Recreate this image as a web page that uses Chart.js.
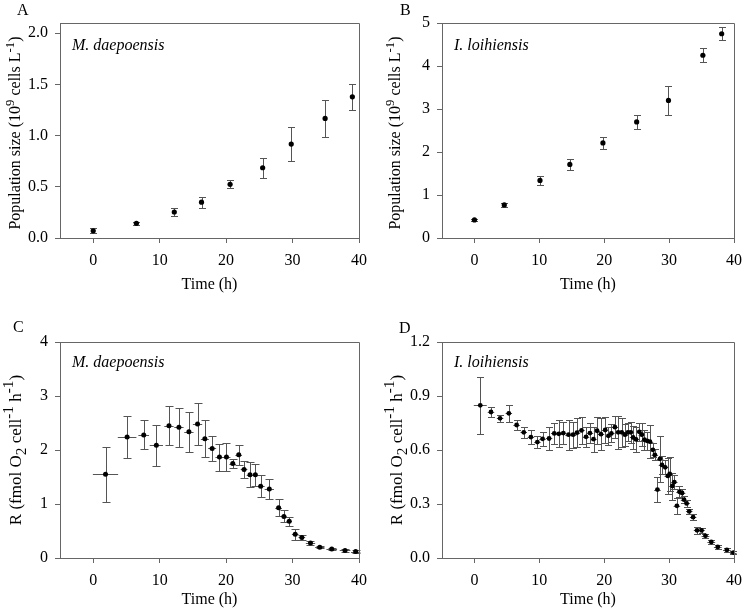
<!DOCTYPE html>
<html><head><meta charset="utf-8">
<script src="https://cdn.jsdelivr.net/npm/chart.js@4/dist/chart.umd.min.js"></script>
<style>
body{margin:0;background:#fff;width:750px;height:613px;position:relative;overflow:hidden;font-family:"Liberation Serif","Times New Roman",serif;color:#000;}
canvas{position:absolute;}
.lbl{position:absolute;font-size:16px;line-height:1;white-space:nowrap;}
.ytitle{position:absolute;font-size:16px;line-height:1;white-space:nowrap;transform:translate(-50%,-50%) rotate(-90deg);}
.ytitle.r{font-size:17px;}
sup,sub{font-size:80%;line-height:0;position:relative;vertical-align:baseline;}
.ytitle.r sup,.ytitle.r sub{font-size:90%;}
sup{top:-0.5em;} sub{bottom:-0.3em;}
</style></head>
<body>
<canvas id="cA" width="375" height="300" style="left:0;top:0"></canvas>
<canvas id="cB" width="375" height="300" style="left:375px;top:0"></canvas>
<canvas id="cC" width="375" height="313" style="left:0;top:300px"></canvas>
<canvas id="cD" width="375" height="313" style="left:375px;top:300px"></canvas>

<div class="lbl" style="left:17px;top:2px">A</div>
<div class="lbl" style="left:400px;top:2px">B</div>
<div class="lbl" style="left:13px;top:319px">C</div>
<div class="lbl" style="left:399px;top:320px">D</div>

<div class="ytitle" style="left:15px;top:133px">Population size (10<sup>9</sup> cells L<sup>-1</sup>)</div>
<div class="ytitle" style="left:395px;top:133px">Population size (10<sup>9</sup> cells L<sup>-1</sup>)</div>
<div class="ytitle r" style="left:15px;top:450px">R (fmol O<sub>2</sub> cell<sup>-1</sup> h<sup>-1</sup>)</div>
<div class="ytitle r" style="left:396px;top:450px">R (fmol O<sub>2</sub> cell<sup>-1</sup> h<sup>-1</sup>)</div>

<script>
// ---- data ----
const xTicks = [0, 10, 20, 30, 40];

const aTime = [0, 6.5, 12.2, 16.3, 20.6, 25.5, 29.8, 34.9, 39.0];
const aPop  = [0.07, 0.143, 0.254, 0.35, 0.524, 0.686, 0.917, 1.168, 1.379];
const aErr  = [0.025, 0.012, 0.037, 0.055, 0.04, 0.1, 0.163, 0.18, 0.127];
const aYTicks = [0, 0.5, 1.0, 1.5, 2.0];

const bTime = [0, 4.6, 10.1, 14.7, 19.8, 25.0, 29.9, 35.2, 38.1];
const bPop  = [0.42, 0.77, 1.34, 1.71, 2.21, 2.70, 3.20, 4.25, 4.75];
const bErr  = [0.02, 0.047, 0.1, 0.13, 0.14, 0.155, 0.33, 0.167, 0.155];
const bYTicks = [0, 1, 2, 3, 4, 5];

const cTime = [1.85, 5.1, 7.6, 9.5, 11.4, 12.9, 14.4, 15.7, 16.8, 17.9, 19.0, 20.05, 21.0, 21.9, 22.7, 23.6, 24.4, 25.2, 26.5, 27.9, 28.7, 29.5, 30.4, 31.4, 32.7, 34.1, 35.9, 37.9, 39.5];
const cRate = [1.55, 2.24, 2.28, 2.09, 2.45, 2.42, 2.34, 2.48, 2.21, 2.03, 1.87, 1.87, 1.75, 1.91, 1.64, 1.54, 1.54, 1.33, 1.28, 0.93, 0.77, 0.68, 0.44, 0.38, 0.28, 0.20, 0.165, 0.14, 0.12];
const cErr  = [0.51, 0.39, 0.27, 0.38, 0.36, 0.36, 0.37, 0.39, 0.34, 0.23, 0.25, 0.26, 0.09, 0.19, 0.15, 0.23, 0.21, 0.2, 0.19, 0.16, 0.11, 0.08, 0.1, 0.04, 0.03, 0.02, 0.02, 0.02, 0.02];
const cTimeErr = [1.9, 1.4, 0.8, 1.0, 0.7, 0.7, 0.7, 0.7, 0.6, 0.6, 0.6, 0.6, 0.5, 0.5, 0.5, 0.5, 0.5, 0.6, 0.7, 0.5, 0.4, 0.4, 0.5, 0.5, 0.7, 0.7, 0.8, 0.8, 0.7];
const cYTicks = [0, 1, 2, 3, 4];

const dTime = [0.9, 2.55, 3.95, 5.3, 6.5, 7.6, 8.7, 9.7, 10.5, 11.5, 12.3, 13.0, 13.7, 14.5, 15.2, 15.8, 16.5, 17.2, 17.8, 18.35, 18.9, 19.5, 20.15, 20.65, 21.1, 21.65, 22.15, 22.7, 23.2, 23.65, 24.1, 24.45, 24.9, 25.4, 25.8, 26.2, 26.6, 27.05, 27.5, 27.8, 28.2, 28.6, 28.9, 29.4, 29.8, 30.1, 30.5, 30.8, 31.2, 31.6, 32.0, 32.3, 32.7, 33.1, 33.7, 34.3, 35.0, 35.6, 36.5, 37.5, 38.9, 39.9];
const dRate = [0.848, 0.811, 0.776, 0.804, 0.739, 0.698, 0.672, 0.644, 0.662, 0.664, 0.692, 0.690, 0.694, 0.685, 0.685, 0.696, 0.709, 0.673, 0.694, 0.660, 0.707, 0.688, 0.711, 0.679, 0.692, 0.727, 0.698, 0.698, 0.685, 0.698, 0.698, 0.670, 0.659, 0.701, 0.685, 0.657, 0.651, 0.646, 0.601, 0.573, 0.38, 0.551, 0.517, 0.504, 0.456, 0.467, 0.40, 0.422, 0.29, 0.368, 0.361, 0.324, 0.303, 0.259, 0.227, 0.154, 0.153, 0.123, 0.089, 0.061, 0.045, 0.030];
const dErr  = [0.157, 0.03, 0.02, 0.047, 0.03, 0.03, 0.037, 0.035, 0.04, 0.063, 0.06, 0.076, 0.06, 0.084, 0.073, 0.08, 0.075, 0.054, 0.056, 0.07, 0.074, 0.09, 0.072, 0.05, 0.05, 0.06, 0.09, 0.08, 0.06, 0.05, 0.06, 0.065, 0.07, 0.05, 0.065, 0.055, 0.05, 0.093, 0.04, 0.03, 0.07, 0.127, 0.05, 0.04, 0.1, 0.093, 0.075, 0.04, 0.045, 0.03, 0.025, 0.02, 0.02, 0.015, 0.015, 0.02, 0.015, 0.012, 0.01, 0.01, 0.01, 0.01];
const dTimeErr = [1.0, 0.5, 0.5, 0.5, 0.5, 0.5, 0.5, 0.5, 0.5, 0.5, 0.5, 0.5, 0.5, 0.5, 0.5, 0.5, 0.5, 0.5, 0.5, 0.5, 0.5, 0.5, 0.5, 0.5, 0.5, 0.5, 0.5, 0.5, 0.5, 0.5, 0.5, 0.5, 0.5, 0.5, 0.5, 0.5, 0.5, 0.5, 0.5, 0.5, 0.5, 0.5, 0.5, 0.5, 0.5, 0.5, 0.5, 0.5, 0.5, 0.5, 0.5, 0.5, 0.5, 0.5, 0.5, 0.5, 0.5, 0.6, 0.6, 0.6, 0.6, 0.5];
const dYTicks = [0, 0.3, 0.6, 0.9, 1.2];

// ---- drawing ----
const FONT = {family: '"Liberation Serif", "Times New Roman", serif', size: 16};
const AX = '#666';
const ERR = '#555';

function panel(o) {
  const cv = document.getElementById(o.id);
  const W = cv.width, H = cv.height;
  const plug = {
    id: 'extras' + o.id,
    beforeDatasetsDraw(chart) {
      const ctx = chart.ctx, x = chart.scales.x, y = chart.scales.y;
      ctx.save();
      ctx.strokeStyle = ERR; ctx.lineWidth = 1;
      o.x.forEach((t, i) => {
        const px = Math.round(x.getPixelForValue(t)) + 0.5;
        const py = Math.round(y.getPixelForValue(o.y[i])) + 0.5;
        const y1 = Math.round(y.getPixelForValue(o.y[i] - o.e[i])) + 0.5;
        const y2 = Math.round(y.getPixelForValue(o.y[i] + o.e[i])) + 0.5;
        ctx.beginPath();
        ctx.moveTo(px, y1); ctx.lineTo(px, y2);
        ctx.moveTo(px - o.cap, y1); ctx.lineTo(px + o.cap, y1);
        ctx.moveTo(px - o.cap, y2); ctx.lineTo(px + o.cap, y2);
        if (o.xe) {
          ctx.moveTo(x.getPixelForValue(t - o.xe[i]), py);
          ctx.lineTo(x.getPixelForValue(t + o.xe[i]), py);
        }
        ctx.stroke();
      });
      ctx.restore();
    },
    afterDraw(chart) {
      const ctx = chart.ctx, a = chart.chartArea;
      ctx.save();
      ctx.strokeStyle = AX; ctx.lineWidth = 1;
      ctx.beginPath();
      ctx.moveTo(a.left, a.top + 0.5); ctx.lineTo(a.right + 0.5, a.top + 0.5);
      ctx.lineTo(a.right + 0.5, a.bottom);
      ctx.stroke();
      ctx.fillStyle = '#000';
      ctx.font = 'italic 16px "Liberation Serif", "Times New Roman", serif';
      ctx.textBaseline = 'alphabetic';
      ctx.fillText(o.name, a.left + 12, a.top + o.nameDy);
      ctx.restore();
    }
  };
  new Chart(cv.getContext('2d'), {
    type: 'scatter',
    data: {datasets: [{
      data: o.x.map((t, i) => ({x: t, y: o.y[i]})),
      pointRadius: o.r, pointHoverRadius: o.r, pointBorderWidth: 0,
      backgroundColor: '#000', borderColor: '#000', showLine: false
    }]},
    options: {
      responsive: false, animation: false, devicePixelRatio: 1,
      layout: {padding: {top: o.area.t, right: W - o.area.r, left: 0, bottom: 0}},
      plugins: {legend: {display: false}, tooltip: {enabled: false}},
      scales: {
        x: {
          type: 'linear', min: -5, max: 40,
          afterFit: s => { s.height = H - o.area.b; },
          afterBuildTicks: s => { s.ticks = xTicks.map(v => ({value: v})); },
          grid: {drawOnChartArea: false, drawTicks: true, tickLength: 5, tickColor: AX, tickWidth: 1},
          border: {display: true, color: AX, width: 1},
          ticks: {font: FONT, color: '#000', padding: o.xpad, maxRotation: 0, autoSkip: false},
          title: {display: true, text: 'Time (h)', font: FONT, color: '#000', padding: {top: 0, bottom: o.tpad}}
        },
        y: {
          type: 'linear', min: 0, max: o.ymax,
          afterFit: s => { s.width = o.area.l; },
          afterBuildTicks: s => { s.ticks = o.yt.map(v => ({value: v})); },
          grid: {drawOnChartArea: false, drawTicks: true, tickLength: 5, tickColor: AX, tickWidth: 1},
          border: {display: true, color: AX, width: 1},
          ticks: {font: FONT, color: '#000', padding: 7, autoSkip: false, callback: v => o.fmt(v)}
        }
      }
    },
    plugins: [plug]
  });
}

const f1 = v => Number(v).toFixed(1);
const f0 = v => String(Math.round(v));

panel({id: 'cA', x: aTime, y: aPop, e: aErr, yt: aYTicks, ymax: 2.1, fmt: f1, r: 2.6, cap: 3.5,
  area: {l: 60, t: 23, r: 359, b: 238}, xpad: 8, tpad: 6, name: 'M. daepoensis', nameDy: 27});
panel({id: 'cB', x: bTime, y: bPop, e: bErr, yt: bYTicks, ymax: 5, fmt: f0, r: 2.6, cap: 3.5,
  area: {l: 67, t: 23, r: 367, b: 238}, xpad: 8, tpad: 6, name: 'I. loihiensis', nameDy: 27});
panel({id: 'cC', x: cTime, y: cRate, e: cErr, xe: cTimeErr, yt: cYTicks, ymax: 4, fmt: f0, r: 2.5, cap: 4,
  area: {l: 60, t: 42, r: 359, b: 258}, xpad: 8, tpad: 4, name: 'M. daepoensis', nameDy: 25});
panel({id: 'cD', x: dTime, y: dRate, e: dErr, xe: dTimeErr, yt: dYTicks, ymax: 1.2, fmt: f1, r: 2.4, cap: 3.5,
  area: {l: 67, t: 42, r: 367, b: 258}, xpad: 8, tpad: 4, name: 'I. loihiensis', nameDy: 25});
</script>
</body></html>
